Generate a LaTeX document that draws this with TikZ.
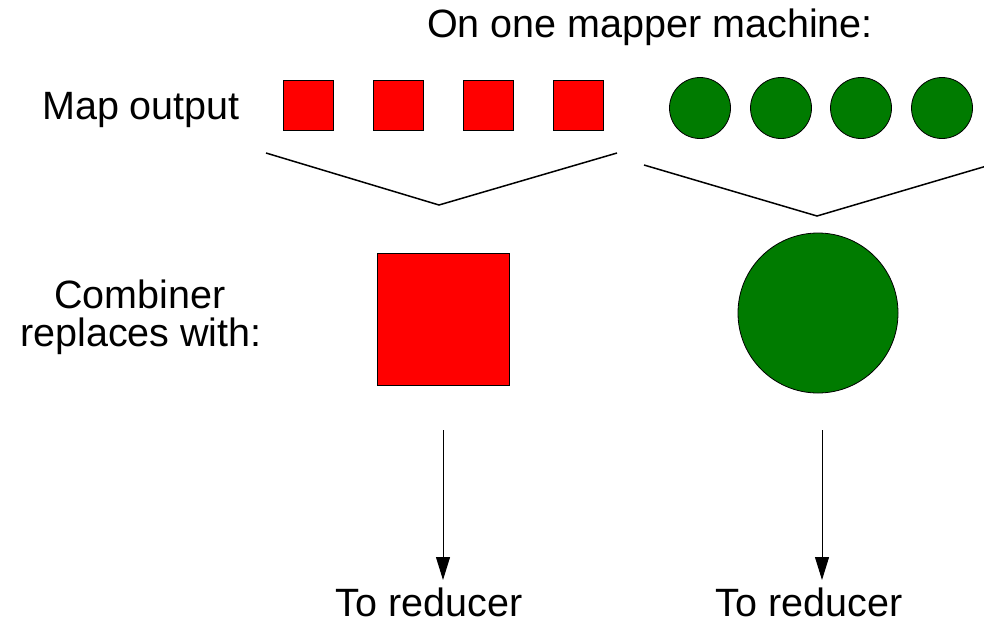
\documentclass[tikz,border=0pt]{standalone}
\usepackage{fontspec}
\setmainfont{Liberation Sans}
\usetikzlibrary{arrows.meta}
\definecolor{sqred}{RGB}{255,0,0}
\definecolor{cgreen}{RGB}{0,123,0}
\begin{document}
\begin{tikzpicture}[x=1pt,y=-1pt,
  lbl/.style={font=\fontsize{39.5}{46}\selectfont, inner sep=0pt, anchor=base},
  redsq/.style={draw=black, line width=1pt, fill=sqred, inner sep=0pt, rectangle},
  grcirc/.style={draw=black, line width=0.8pt, fill=cgreen, inner sep=0pt, circle},
  vline/.style={line width=1.5pt, black},
  toarrow/.style={line width=1pt, -{Triangle[width=14pt,length=23pt]}}]
\useasboundingbox[fill=white] (0,0) rectangle (984,619);
% texts
\node[lbl] (title) at (650,37) {On one mapper machine:};
\node[lbl] (mapout) at (141,119) {Map output};
\node[lbl] (comb1) at (140,308) {Combiner};
\node[lbl] (comb2) at (141,346) {replaces with:};
\node[lbl] (red1) at (429,616) {To reducer};
\node[lbl] (red2) at (809,616) {To reducer};
% small red squares
\node[redsq, minimum size=50pt] (s1) at (308,105) {};
\node[redsq, minimum size=50pt] (s2) at (398,105) {};
\node[redsq, minimum size=50pt] (s3) at (488,105) {};
\node[redsq, minimum size=50pt] (s4) at (578,105) {};
% small green circles
\node[grcirc, minimum size=61pt] (c1) at (700,108) {};
\node[grcirc, minimum size=61pt] (c2) at (781,108) {};
\node[grcirc, minimum size=61pt] (c3) at (861,108) {};
\node[grcirc, minimum size=61pt] (c4) at (942,108) {};
% funnels
\coordinate (la) at (266,153);
\coordinate (lv) at (439,205);
\coordinate (lb) at (617,153);
\coordinate (ra) at (644,165);
\coordinate (rv) at (817,216);
\coordinate (rb) at (990,165);
\draw[vline] (la) -- (lv) -- (lb);
\draw[vline] (ra) -- (rv) -- (rb);
% combined
\node[redsq, minimum size=132pt] (bigsq) at (443,319) {};
\node[grcirc, minimum size=160pt] (bigc) at (818,313) {};
% arrows
\coordinate (a1s) at (443,430);
\coordinate (a1e) at (443,580);
\coordinate (a2s) at (822,430);
\coordinate (a2e) at (822,580);
\draw[toarrow] (a1s) -- (a1e);
\draw[toarrow] (a2s) -- (a2e);
\end{tikzpicture}
\end{document}
